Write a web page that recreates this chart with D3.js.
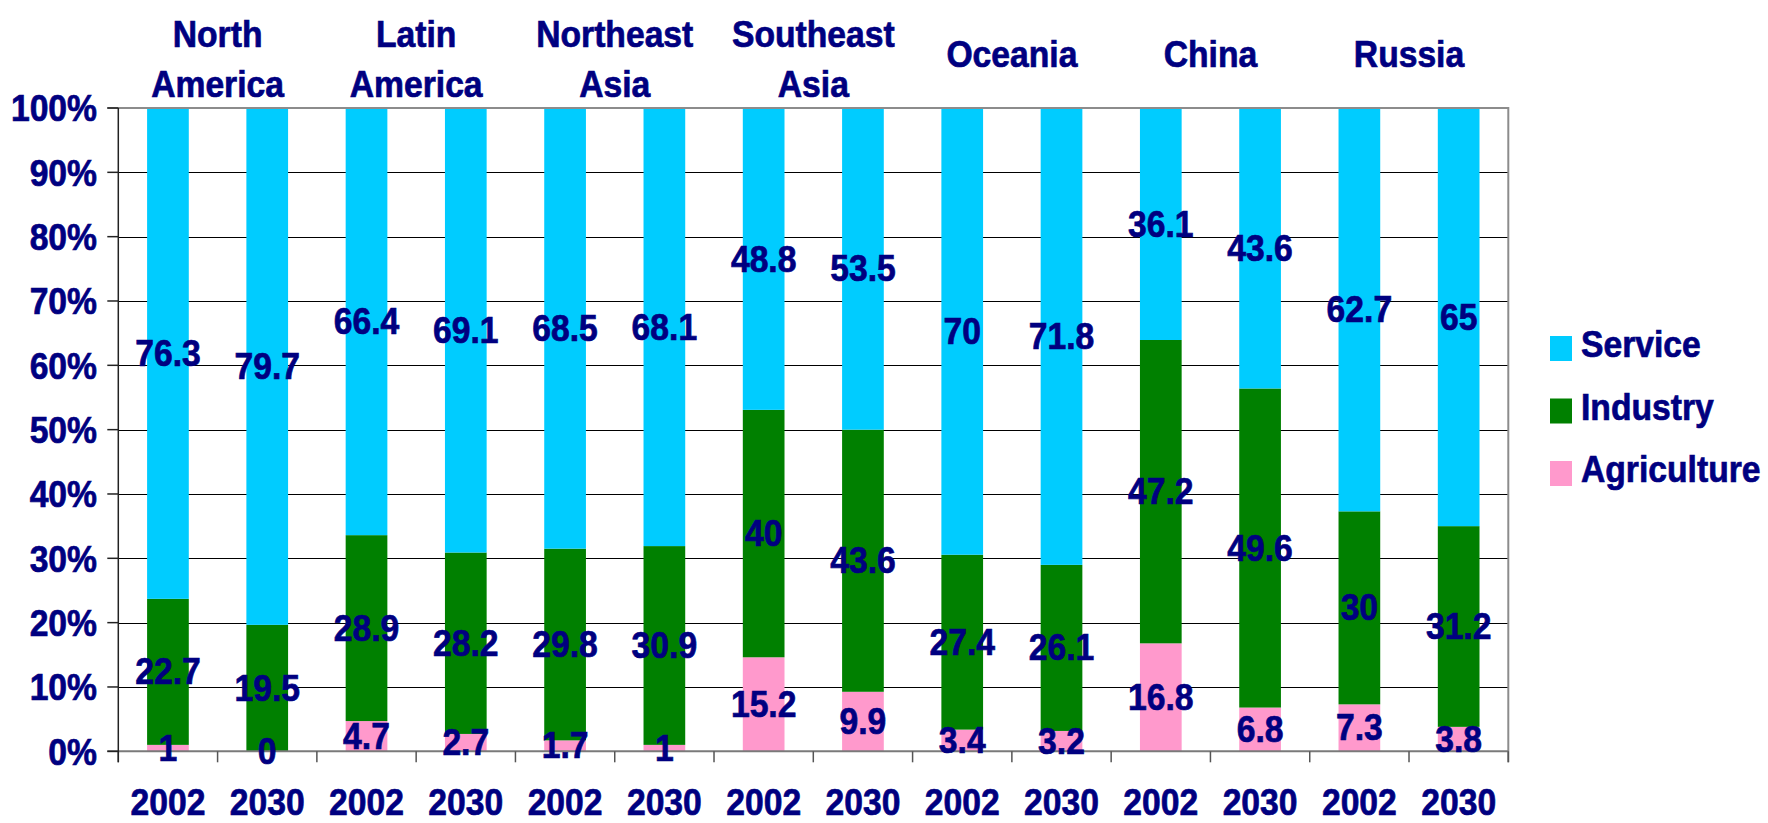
<!DOCTYPE html>
<html>
<head>
<meta charset="utf-8">
<script src="https://cdn.jsdelivr.net/npm/d3@7"></script>
<style>
  html, body { margin: 0; padding: 0; background: #fff; }
  svg { display: block; }
</style>
</head>
<body>
<svg id="chart" width="1768" height="823"></svg>
<script>
// Economic structure by region: share of Agriculture / Industry / Service
const regions = ["North America", "Latin America", "Northeast Asia", "Southeast Asia", "Oceania", "China", "Russia"];
const years = ["2002", "2030"];
const seriesNames = ["Agriculture", "Industry", "Service"];

// one value per bar, in region order, 2002 then 2030
const agriculture = [1, 0, 4.7, 2.7, 1.7, 1, 15.2, 9.9, 3.4, 3.2, 16.8, 6.8, 7.3, 3.8];
const industry    = [22.7, 19.5, 28.9, 28.2, 29.8, 30.9, 40, 43.6, 27.4, 26.1, 47.2, 49.6, 30, 31.2];
const service     = [76.3, 79.7, 66.4, 69.1, 68.5, 68.1, 48.8, 53.5, 70, 71.8, 36.1, 43.6, 62.7, 65];

const yTicks = [0, 0.1, 0.2, 0.3, 0.4, 0.5, 0.6, 0.7, 0.8, 0.9, 1];

const colors = { Service: "#00CCFF", Industry: "#008000", Agriculture: "#FF99CC" };
const textColor = "#000080";
const FONT = "'Liberation Sans', Arial, Helvetica, sans-serif";
const FS = 37;        // font size
const SX = 0.91;      // horizontal squeeze of the lettering

// table of bars
const rows = [];
regions.forEach((r, i) => {
  years.forEach((yr, j) => {
    const k = i * years.length + j;
    rows.push({ key: r + "|" + yr, region: r, year: yr,
      Agriculture: agriculture[k], Industry: industry[k], Service: service[k] });
  });
});

const svg = d3.select("#chart");
const plot = { left: 118.3, right: 1508.3, top: 108, bottom: 751.3 };

const x = d3.scaleBand()
  .domain(rows.map(d => d.key))
  .range([plot.left, plot.right])
  .paddingInner(0.58)
  .paddingOuter(0.29);

const y = d3.scaleLinear().domain([0, 1]).range([plot.bottom, plot.top]);

const stack = d3.stack().keys(seriesNames).offset(d3.stackOffsetExpand);
const stacked = stack(rows);

function label(g, txt, px, py, anchor, dy) {
  return g.append("text")
    .attr("transform", `translate(${px},${py}) scale(${SX},1)`)
    .attr("text-anchor", anchor || "middle")
    .attr("dy", dy || 0)
    .attr("font-family", FONT)
    .attr("font-weight", "bold")
    .attr("font-size", FS)
    .attr("fill", textColor)
    .attr("stroke", textColor)
    .attr("stroke-width", 0.7)
    .text(txt);
}

// gridlines
const grid = svg.append("g");
yTicks.filter(t => t > 0 && t < 1).forEach(t => {
  const yy = Math.round(y(t)) + 0.5;
  grid.append("line")
    .attr("x1", plot.left).attr("x2", plot.right)
    .attr("y1", yy).attr("y2", yy)
    .attr("stroke", "#000").attr("stroke-width", 1);
});

// bars
const bars = svg.append("g");
stacked.forEach(layer => {
  bars.selectAll(null)
    .data(layer)
    .enter().append("rect")
    .attr("x", d => x(d.data.key))
    .attr("width", x.bandwidth())
    .attr("y", d => y(d[1]))
    .attr("height", d => y(d[0]) - y(d[1]))
    .attr("fill", colors[layer.key]);
});

// plot frame: top and right border
svg.append("line")
  .attr("x1", plot.left - 11).attr("x2", plot.right)
  .attr("y1", plot.top).attr("y2", plot.top)
  .attr("stroke", "#8c8c8c").attr("stroke-width", 2);
svg.append("line")
  .attr("x1", plot.right).attr("x2", plot.right)
  .attr("y1", plot.top - 1).attr("y2", plot.bottom + 11)
  .attr("stroke", "#8c8c8c").attr("stroke-width", 2);

// x axis line and category ticks
svg.append("line")
  .attr("x1", plot.left - 11).attr("x2", plot.right)
  .attr("y1", plot.bottom).attr("y2", plot.bottom)
  .attr("stroke", "#7a7a7a").attr("stroke-width", 2);
const step = x.step();
for (let i = 0; i <= rows.length; i++) {
  const xx = plot.left + i * step;
  svg.append("line")
    .attr("x1", xx).attr("x2", xx)
    .attr("y1", plot.bottom).attr("y2", plot.bottom + 11)
    .attr("stroke", "#555").attr("stroke-width", 1.5);
}

// y axis line, ticks and labels
svg.append("line")
  .attr("x1", plot.left).attr("x2", plot.left)
  .attr("y1", plot.top).attr("y2", plot.bottom + 11)
  .attr("stroke", "#222").attr("stroke-width", 1.5);
const yAxisG = svg.append("g");
yTicks.forEach(t => {
  const yy = y(t);
  yAxisG.append("line")
    .attr("x1", plot.left - 11).attr("x2", plot.left)
    .attr("y1", yy).attr("y2", yy)
    .attr("stroke", "#222").attr("stroke-width", 1.5);
  label(yAxisG, d3.format(".0%")(t), 97, yy, "end", "0.36em");
});

// data labels centred in each segment
const vals = svg.append("g");
stacked.forEach(layer => {
  layer.forEach(d => {
    const cx = x(d.data.key) + x.bandwidth() / 2;
    const cy = (y(d[0]) + y(d[1])) / 2;
    label(vals, String(d.data[layer.key]), cx, cy, "middle", "0.34em");
  });
});

// year labels under each bar
const xl = svg.append("g");
rows.forEach(d => {
  label(xl, d.year, x(d.key) + x.bandwidth() / 2, 815, "middle");
});

// region headings above each pair of bars
const heads = svg.append("g");
regions.forEach(r => {
  const k0 = r + "|" + years[0], k1 = r + "|" + years[years.length - 1];
  const cx = (x(k0) + x(k1) + x.bandwidth()) / 2;
  const lines = r.split(" ");
  const baselines = lines.length === 2 ? [47, 97] : [67];
  lines.forEach((ln, i) => label(heads, ln, cx, baselines[i], "middle"));
});

// legend
const legendKeys = ["Service", "Industry", "Agriculture"];
const lg = svg.append("g");
legendKeys.forEach((k, i) => {
  const cy = 348.5 + i * 62.5;
  lg.append("rect")
    .attr("x", 1550).attr("y", cy - 12.5)
    .attr("width", 22).attr("height", 25)
    .attr("fill", colors[k]);
  label(lg, k, 1581, cy + 8.5, "start");
});
</script>
</body>
</html>
